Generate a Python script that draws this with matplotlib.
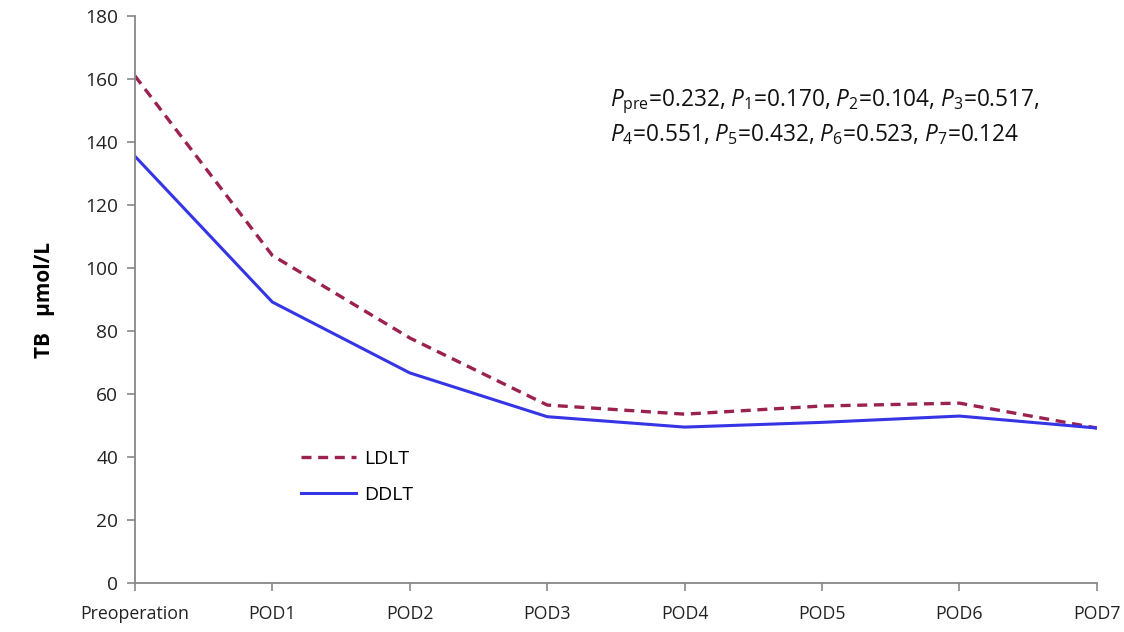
import matplotlib
matplotlib.use("Agg")
import matplotlib.pyplot as plt

categories = ["Preoperation", "POD1", "POD2", "POD3", "POD4", "POD5", "POD6", "POD7"]
ldlt = [161, 104, 77.8, 56.5, 53.6, 56.2, 57.1, 49.2]
ddlt = [135.5, 89.2, 66.7, 52.8, 49.5, 51.0, 53.0, 49.2]
yticks = [0, 20, 40, 60, 80, 100, 120, 140, 160, 180]

plt.rcParams['font.family'] = ['Open Sans', 'DejaVu Sans']
plt.rcParams['mathtext.fontset'] = 'custom'
plt.rcParams['mathtext.rm'] = 'Open Sans'
plt.rcParams['mathtext.it'] = 'Open Sans:italic'

fig = plt.figure(figsize=(11.24, 6.32), dpi=100)
ax = fig.add_axes([0.120, 0.0775, 0.8559, 0.8972])

x = list(range(len(categories)))
ax.plot(x, ldlt, color='#9B2150', lw=2.4, ls=(0, (3, 2)), label='LDLT')
ax.plot(x, ddlt, color='#3535E6', lw=2.2, label='DDLT')

ax.set_xlim(0, len(categories) - 1)
ax.set_ylim(0, 180)
ax.set_yticks(yticks)
ax.set_xticks(x)
ax.set_xticklabels(categories)
for s in ['top', 'right']:
    ax.spines[s].set_visible(False)
for s in ['left', 'bottom']:
    ax.spines[s].set_color('#888888')
    ax.spines[s].set_linewidth(1.3)
ax.tick_params(axis='both', direction='out', length=6, width=1.2, color='#888888',
               labelsize=13.8, labelcolor='#222222')
ax.tick_params(axis='x', pad=10, labelsize=12.8)
ax.tick_params(axis='y', pad=6)
ax.set_ylabel('TB   μmol/L', fontsize=15, fontweight='bold', labelpad=22)

txt = (r"$P_{\mathrm{pre}}$=0.232, $P_1$=0.170, $P_2$=0.104, $P_3$=0.517," "\n"
       r"$P_4$=0.551, $P_5$=0.432, $P_6$=0.523, $P_7$=0.124")
ax.text(0.494, 0.875, txt, transform=ax.transAxes, fontsize=16.3, va='top', ha='left',
        linespacing=1.35, color='#111111')

ax.legend(loc='upper left', bbox_to_anchor=(0.155, 0.265), frameon=False, fontsize=14,
          handlelength=2.8, labelspacing=0.9, handletextpad=0.4)

fig.savefig('out.png', dpi=100)
